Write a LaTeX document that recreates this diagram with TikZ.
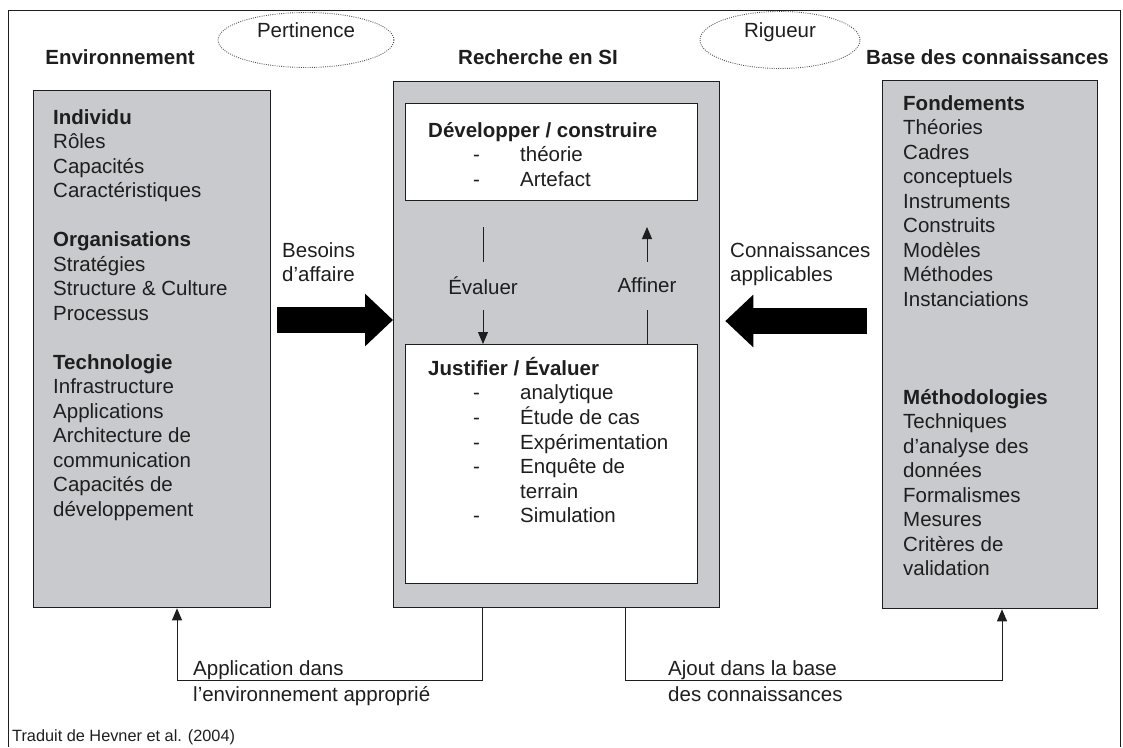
\documentclass[tikz,border=0pt]{standalone}
\usepackage{fontspec}
\setmainfont{Liberation Sans}
\usetikzlibrary{arrows.meta,shapes.geometric,calc}
\definecolor{boxgray}{RGB}{200,202,206}
\definecolor{inkdark}{RGB}{30,30,30}
\definecolor{dotgray}{RGB}{80,80,80}
\newcommand\bodyfont{\fontsize{20.5}{24.5}\selectfont}
\newcommand\notefont{\fontsize{16.3}{19}\selectfont}
% multi-line text block aligned on its first baseline
\newcommand\lst[1]{\begin{tabular}[t]{@{}l@{}}#1\end{tabular}}
% dashed list item inside the central boxes
\newcommand\itm[1]{\hspace*{45pt}\makebox[47pt][l]{-}#1}
\begin{document}
\begin{tikzpicture}[x=1pt,y=-1pt,font=\bodyfont,text=inkdark,
  panel/.style={draw=inkdark,line width=1.3pt,fill=boxgray,anchor=north west,inner sep=0pt},
  whitebox/.style={draw=inkdark,line width=1.3pt,fill=white,anchor=north west,inner sep=0pt},
  txt/.style={anchor=base west,inner sep=0pt},
  head/.style={anchor=base,inner sep=0pt,font=\bodyfont\bfseries},
  oval/.style={draw=dotgray,line width=0.9pt,dash pattern=on 0.9pt off 1.3pt,ellipse,inner sep=0pt},
  conn/.style={draw=inkdark,line width=0.9pt},
  tip/.style={-{Triangle[length=12pt,width=10pt]}},
  bigarrow/.style={draw=black,line width=26pt,-{Triangle[length=28pt,width=51pt]}},
  midlbl/.style={fill=boxgray,inner xsep=2pt,inner ysep=0pt,minimum height=48pt}]
\useasboundingbox (0,0) rectangle (1123,747);

% outer frame
\draw[line width=1pt,draw=inkdark] (8,747) -- (8,10) -- (1120,10) -- (1120,747);

% column headings
\node[head] (hEnv) at (120,64) {Environnement};
\node[head] (hRech) at (538,64) {Recherche en SI};
\node[head,anchor=base west] (hBase) at (866,64) {Base des connaissances};

% dotted ovals
\node[oval,minimum width=176pt,minimum height=55pt] (pertOval) at (306,40) {};
\node[anchor=base,inner sep=0pt] (pertTxt) at (306,37) {Pertinence};
\node[oval,minimum width=160pt,minimum height=57pt] (rigOval) at (780,40) {};
\node[anchor=base,inner sep=0pt] (rigTxt) at (780,37) {Rigueur};

% three panels
\node[panel,minimum width=237pt,minimum height=517pt] (env) at (33,90) {};
\node[panel,minimum width=326pt,minimum height=526pt] (rech) at (393,81) {};
\node[panel,minimum width=215pt,minimum height=528pt] (base) at (882,80) {};
\node[whitebox,minimum width=292pt,minimum height=97pt] (dev) at (405,103) {};
\node[whitebox,minimum width=292pt,minimum height=239pt] (just) at (405,344) {};

% environment list
\node[txt] (envList) at (53,124) {\lst{\textbf{Individu}\\ Rôles\\ Capacités\\ Caractéristiques\\ \\
  \textbf{Organisations}\\ Stratégies\\ Structure \& Culture\\ Processus\\ \\
  \textbf{Technologie}\\ Infrastructure\\ Applications\\ Architecture de\\ communication\\
  Capacités de\\ développement}};

% knowledge base list
\node[txt] (baseList) at (903,110) {\lst{\textbf{Fondements}\\ Théories\\ Cadres\\ conceptuels\\
  Instruments\\ Construits\\ Modèles\\ Méthodes\\ Instanciations\\ \\ \\ \\
  \textbf{Méthodologies}\\ Techniques\\ d’analyse des\\ données\\ Formalismes\\ Mesures\\
  Critères de\\ validation}};

% research boxes
\node[txt] (devList) at (428,137) {\lst{\textbf{Développer / construire}\\ \itm{théorie}\\ \itm{Artefact}}};
\node[txt] (justList) at (428,375) {\lst{\textbf{Justifier / Évaluer}\\ \itm{analytique}\\ \itm{Étude de cas}\\
  \itm{Expérimentation}\\ \itm{Enquête de}\\ \hspace*{92pt}terrain\\ \itm{Simulation}}};

% evaluate / refine loop
\coordinate (evalTop) at (483,227);
\coordinate (affTop) at (647,227);
\draw[conn,tip] (evalTop) -- (just.north -| evalTop) node[midlbl,midway] (evalLbl) {Évaluer};
\draw[conn,tip] (just.north -| affTop) -- (affTop) node[midlbl,midway] (affLbl) {Affiner};

% big input arrows
\node[txt] (besoins) at (282,257) {\lst{Besoins\\ d'affaire}};
\coordinate (besTail) at (277,320);
\draw[bigarrow] (besTail) -- (rech.west |- besTail);
\node[txt] (connApp) at (730,257) {\lst{Connaissances\\ applicables}};
\coordinate (connTail) at (867,321);
\draw[bigarrow] (connTail) -- ($(rech.east |- connTail)+(5,0)$);

% feedback connectors at the bottom
\coordinate (appR) at (482,680);
\coordinate (appL) at (177,680);
\draw[conn,tip] (rech.south -| appR) -- (appR) -- (appL) -- (env.south -| appL);
\node[txt] (appLbl) at (193,675) {\lst{Application dans\\[1.5pt] l’environnement approprié}};
\coordinate (ajL) at (625,680);
\coordinate (ajR) at (1002,680);
\draw[conn,tip] (rech.south -| ajL) -- (ajL) -- (ajR) -- (base.south -| ajR);
\node[txt] (ajLbl) at (668,675) {\lst{Ajout dans la base\\[1.5pt] des connaissances}};

% source note
\node[txt,font=\notefont] (src) at (12,741) {Traduit de Hevner et al. (2004)};
\end{tikzpicture}
\end{document}
